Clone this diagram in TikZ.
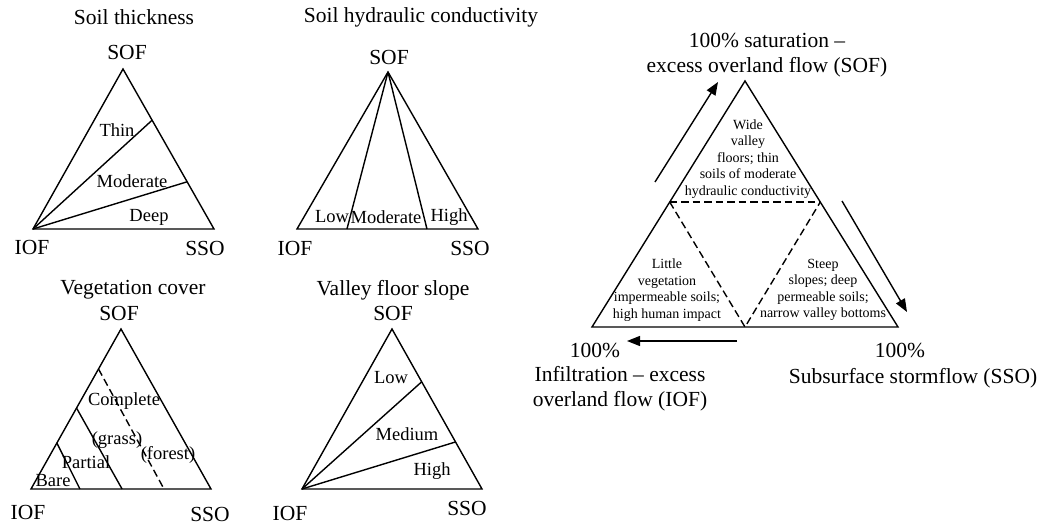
\documentclass[tikz,border=0pt]{standalone}
\usepackage{fontspec}
\setmainfont{Liberation Serif}
\usetikzlibrary{calc,arrows.meta}
\begin{document}
\begin{tikzpicture}[x=1pt,y=-1pt,
  edge/.style={line width=1.4pt},
  split/.style={line width=1.4pt},
  splitdash/.style={line width=1.4pt,dash pattern=on 7.5pt off 4pt},
  flow/.style={line width=1.4pt,-{Triangle[length=13pt,width=10pt]}},
  big/.style={font=\fontsize{21.5}{25}\selectfont,inner sep=0pt,align=center},
  mid/.style={font=\fontsize{18.5}{21}\selectfont,inner sep=0pt},
  small/.style={font=\fontsize{14}{16.5}\selectfont,inner sep=0pt,align=center}]
\useasboundingbox (0,0) rectangle (1047,524);

% ---- Soil thickness ----
\coordinate (a1) at (123,69);
\coordinate (l1) at (33,229);
\coordinate (r1) at (214,229);
\draw[edge,line join=miter] (a1) -- (l1) -- (r1) -- cycle;
\draw[split] (l1) -- ($(a1)!0.32!(r1)$);
\draw[split] (l1) -- ($(a1)!0.705!(r1)$);
\node[big] (t1) at (134,17) {Soil thickness};
\node[big] (s1) at (127,52) {SOF};
\node[big] (i1) at (32,247) {IOF};
\node[big] (o1) at (205,248) {SSO};
\node[mid] (thin) at (117,130) {Thin};
\node[mid] (mod1) at (132,181) {Moderate};
\node[mid] (deep) at (149,217) {Deep};

% ---- Soil hydraulic conductivity ----
\coordinate (a2) at (388,72);
\coordinate (l2) at (297,229);
\coordinate (r2) at (478,229);
\draw[edge,line join=miter] (a2) -- (l2) -- (r2) -- cycle;
\draw[split] (a2) -- ($(l2)!0.276!(r2)$);
\draw[split] (a2) -- ($(l2)!0.718!(r2)$);
\node[big] (t2) at (421,17) {Soil hydraulic conductivity};
\node[big] (s2) at (389,57) {SOF};
\node[big] (i2) at (295,248) {IOF};
\node[big] (o2) at (470,248) {SSO};
\node[mid] (low2) at (332,217) {Low};
\node[mid] (mod2) at (386,217) {Moderate};
\node[mid] (high2) at (449,217) {High};

% ---- Vegetation cover ----
\coordinate (a3) at (121,329);
\coordinate (l3) at (31,489);
\coordinate (r3) at (211,489);
\draw[edge,line join=miter] (a3) -- (l3) -- (r3) -- cycle;
\draw[split] ($(l3)!0.2875!(a3)$) -- ($(l3)!0.272!(r3)$);
\draw[split] ($(l3)!0.506!(a3)$) -- ($(l3)!0.506!(r3)$);
\draw[splitdash] ($(l3)!0.75!(a3)$) -- ($(l3)!0.739!(r3)$);
\node[big] (t3) at (133,290) {Vegetation cover};
\node[big] (s3) at (119,313) {SOF};
\node[big] (i3) at (28,512) {IOF};
\node[big] (o3) at (210,514) {SSO};
\node[mid] (compl) at (124,401) {Complete};
\node[mid] (grass) at (117,440) {(grass)};
\node[mid] (part) at (86,462) {Partial};
\node[mid] (forest) at (168,455) {(forest)};
\node[mid] (bare) at (53,481) {Bare};

% ---- Valley floor slope ----
\coordinate (a4) at (392,329);
\coordinate (l4) at (302,489);
\coordinate (r4) at (482,489);
\draw[edge,line join=miter] (a4) -- (l4) -- (r4) -- cycle;
\draw[split] (l4) -- ($(a4)!0.33!(r4)$);
\draw[split] (l4) -- ($(a4)!0.706!(r4)$);
\node[big] (t4) at (393,290) {Valley floor slope};
\node[big] (s4) at (393,313) {SOF};
\node[big] (i4) at (290,513) {IOF};
\node[big] (o4) at (467,508) {SSO};
\node[mid] (low4) at (391,378) {Low};
\node[mid] (med4) at (407,434) {Medium};
\node[mid] (high4) at (432,471) {High};

% ---- Summary triangle ----
\coordinate (a5) at (745,81);
\coordinate (l5) at (592,327);
\coordinate (r5) at (898,327);
\coordinate (m5) at (745,327);
\coordinate (p5) at ($(a5)!0.492!(l5)$);
\coordinate (q5) at ($(a5)!0.492!(r5)$);
\draw[edge,line join=miter] (a5) -- (l5) -- (r5) -- cycle;
\draw[splitdash] (p5) -- (q5);
\draw[splitdash] (p5) -- (m5) -- (q5);
\node[small] (wide) at (748,159) {Wide\\valley\\floors; thin\\soils of moderate\\hydraulic conductivity};
\node[small] (little) at (667,290) {Little\\vegetation\\impermeable soils;\\high human impact};
\node[small] (steep) at (823,290) {Steep\\slopes; deep\\permeable soils;\\narrow valley bottoms};

% flow arrows around the triangle
\coordinate (u0) at (655,182);
\coordinate (u1) at (718,82);
\coordinate (d0) at (842,201);
\coordinate (d1) at (907,312);
\coordinate (b0) at (737,341);
\coordinate (b1) at (627,341);
\draw[flow] (u0) -- (u1);
\draw[flow] (d0) -- (d1);
\draw[flow] (b0) -- (b1);

\node[big] (sof) at (767,55) {100\% saturation --\\excess overland flow (SOF)};
\node[big] (iofp) at (595,350) {100\%};
\node[big] (iof) at (620,389) {Infiltration -- excess\\overland flow (IOF)};
\node[big] (ssop) at (900,350) {100\%};
\node[big] (sso) at (913,378) {Subsurface stormflow (SSO)};
\end{tikzpicture}
\end{document}
